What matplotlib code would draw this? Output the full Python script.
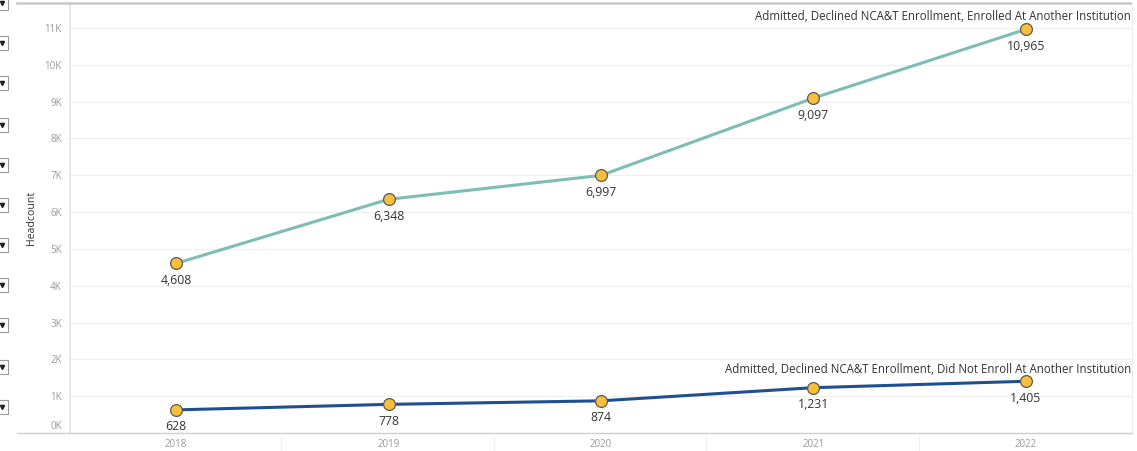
import matplotlib
matplotlib.use("Agg")
import matplotlib.pyplot as plt
from matplotlib.patches import Rectangle
from matplotlib.lines import Line2D
from matplotlib.transforms import ScaledTranslation

years = [2018, 2019, 2020, 2021, 2022]
enrolled_elsewhere = [4608, 6348, 6997, 9097, 10965]
not_enrolled = [628, 778, 874, 1231, 1405]
series_names = [
    "Admitted, Declined NCA&T Enrollment, Enrolled At Another Institution",
    "Admitted, Declined NCA&T Enrollment, Did Not Enroll At Another Institution",
]
y_ticks = list(range(0, 12000, 1000))
y_tick_labels = [f"{v // 1000}K" for v in y_ticks]

plt.rcParams["font.family"] = ["Open Sans", "DejaVu Sans"]

W, H = 1137, 451
fig = plt.figure(figsize=(W / 100, H / 100), dpi=100)
ax = fig.add_axes([70 / W, 1 - 433 / H, (1132 - 70) / W, (433 - 3) / H])

teal = "#7dbdb4"
navy = "#1f4f91"
marker_kw = dict(marker="o", markersize=8.5, markerfacecolor="#f8bf38",
                 markeredgecolor="#5a5a5a", markeredgewidth=0.9)

ax.plot(years, enrolled_elsewhere, color=teal, lw=2.2, zorder=3, **marker_kw)
ax.plot(years, not_enrolled, color=navy, lw=2.2, zorder=3, **marker_kw)

for series in (enrolled_elsewhere, not_enrolled):
    for x, v in zip(years, series):
        ax.annotate(f"{v:,}", (x, v), xytext=(0, -7.5), textcoords="offset points",
                    ha="center", va="top", fontsize=8.8, color="#333333")

ax.annotate(series_names[0], (years[-1], enrolled_elsewhere[-1]), xytext=(76, 4.3),
            textcoords="offset points", ha="right", va="bottom",
            fontsize=8.3, color="#333333")
ax.annotate(series_names[1], (years[-1], not_enrolled[-1]), xytext=(76, 3.6),
            textcoords="offset points", ha="right", va="bottom",
            fontsize=8.3, color="#333333")

ax.set_xlim(2017.5, 2022.5)
ax.set_ylim(0, 11680)
ax.set_xticks(years)
ax.set_xticklabels([str(y) for y in years])
ax.set_yticks(y_ticks)
ax.set_yticklabels(y_tick_labels)
ax.tick_params(axis="both", length=0, labelsize=7, labelcolor="#9a9a9a")
ax.tick_params(axis="x", pad=4)
ax.tick_params(axis="y", pad=6)
# lift the zero label off the baseline
zero_label = ax.get_yticklabels()[0]
zero_label.set_transform(zero_label.get_transform()
                         + ScaledTranslation(0, 8 / 100, fig.dpi_scale_trans))
ax.grid(axis="y", color="#efefef", lw=0.8)
ax.set_axisbelow(True)
ax.set_ylabel("Headcount", fontsize=7.6, color="#333333")
ax.yaxis.set_label_coords(-33 / (1132 - 70), 0.5)

for side in ["top", "bottom"]:
    ax.spines[side].set_visible(False)
ax.spines["left"].set_color("#e3e3e3")
ax.spines["left"].set_linewidth(1.2)
ax.spines["right"].set_color("#ededed")

# frame lines spanning the filter column
fig.add_artist(Line2D([17 / W, 1130 / W], [1 - 3 / H, 1 - 3 / H],
                      color="#c8c8c8", lw=1.8))
fig.add_artist(Line2D([17 / W, 1132 / W], [1 - 433 / H, 1 - 433 / H],
                      color="#cfcfcf", lw=1.0))
for xd in [281.25, 493.75, 706.25, 918.75]:
    fig.add_artist(Line2D([xd / W, xd / W], [0, 1 - 435 / H],
                          color="#f0f0f0", lw=0.8))

# small dropdown filter boxes on the left edge
for yb in [3, 43, 83, 125, 165, 205, 245, 285, 325, 367, 407]:
    fig.add_artist(Rectangle((-2 / W, 1 - (yb + 7) / H), 10 / W, 14 / H,
                             facecolor="white", edgecolor="#9a9a9a", lw=0.8))
    fig.add_artist(Line2D([2 / W], [1 - yb / H], marker="v", markersize=3,
                          color="#222222", lw=0))

fig.savefig("out.png", dpi=100)
